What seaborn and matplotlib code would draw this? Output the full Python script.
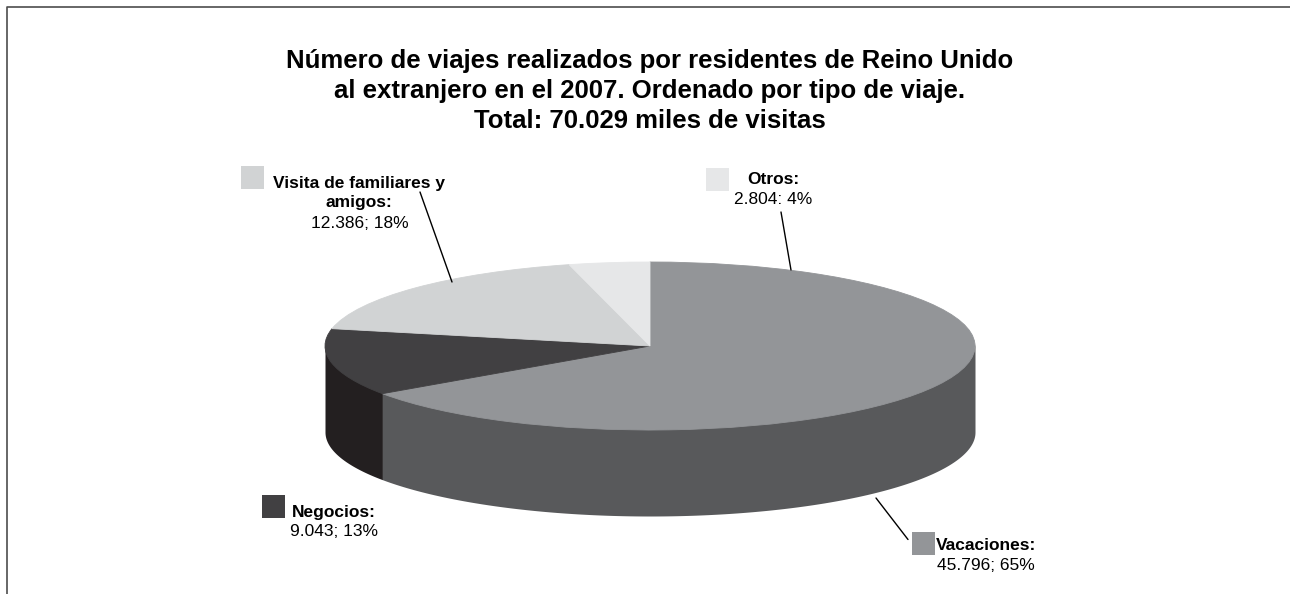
import numpy as np
import seaborn as sns
import matplotlib
matplotlib.use("Agg")
import matplotlib.pyplot as plt
from matplotlib.patches import Rectangle
from matplotlib.lines import Line2D

categories = ["Vacaciones", "Negocios", "Visita de familiares y\namigos", "Otros"]
values = [45796, 9043, 12386, 2804]
value_labels = ["45.796; 65%", "9.043; 13%", "12.386; 18%", "2.804: 4%"]
top_colors = ["#939598", "#414042", "#d1d3d4", "#e6e7e8"]
side_colors = ["#58595b", "#231f20", "#a7a9ac", "#bcbec0"]
title = ("Número de viajes realizados por residentes de Reino Unido\n"
         "al extranjero en el 2007. Ordenado por tipo de viaje.\n"
         "Total: 70.029 miles de visitas")

sns.set_theme(style="white")
plt.rcParams["font.family"] = ["Liberation Sans", "DejaVu Sans"]

W, H = 1290, 594
fig = plt.figure(figsize=(W / 100, H / 100), dpi=100, facecolor="white")

# Overlay in pixel coordinates for frame, texts, legend keys
ov = fig.add_axes([0, 0, 1, 1], zorder=3)
ov.set_xlim(0, W)
ov.set_ylim(H, 0)
ov.axis("off")
ov.patch.set_alpha(0)

# Pie axes: unit circle squashed to an ellipse
cx, cy, rx, ry, depth = 650, 346, 325, 84, 86
ax = fig.add_axes([(cx - rx) / W, 1 - (cy + ry) / H, 2 * rx / W, 2 * ry / H], zorder=2)
ax.pie(values, colors=top_colors, startangle=90, counterclock=False, radius=1,
       wedgeprops=dict(linewidth=0.6), frame=False)
for w, c in zip(ax.patches, top_colors):
    w.set_edgecolor(c)
    w.set_zorder(5)
ax.set_aspect("auto")
ax.set_xlim(-1, 1)
ax.set_ylim(-1, 1)
ax.axis("off")
ax.patch.set_alpha(0)

# Side wall, derived from the values; its top tucks under the pie to avoid a seam
d = depth / ry
edges = 90 - 360 * np.concatenate([[0], np.cumsum(values)]) / np.sum(values)
for a0, a1, c in zip(edges[:-1], edges[1:], side_colors):
    lo, hi = max(min(a0, a1), -180), min(max(a0, a1), 0)
    if lo < hi:
        t = np.radians(np.linspace(lo, hi, 200))
        ax.fill_between(np.cos(t), np.sin(t) + 0.05, np.sin(t) - d, color=c, lw=0,
                        zorder=1, clip_on=False)

# Frame: left and top only
ov.add_line(Line2D([6.8, 6.8, W], [H, 6.5, 6.5], color="#4d4d4d", lw=1.2))

ov.text(650, 90.8, title, ha="center", va="center", fontsize=18.5, fontweight="bold",
        color="black", linespacing=1.31)

fs = 12.5
keys = [(912, 532), (262, 495), (241, 166), (706, 168)]
name_pos = [(986, 546), (334, 512), (359, 193), (773, 180)]
value_pos = [(986, 566), (334, 532), (360, 223), (773, 200)]
leaders = [(876, 498, 908, 539.5), (420, 192, 452, 282), (781, 212, 791, 270)]

for i, name in enumerate(categories):
    ov.add_patch(Rectangle(keys[i], 23, 23, fc=top_colors[i], ec="none"))
    ov.text(*name_pos[i], name + ":", ha="center", va="center", fontsize=fs,
            fontweight="bold", color="black", linespacing=1.4)
    ov.text(*value_pos[i], value_labels[i], ha="center", va="center", fontsize=fs, color="black")

for (x0, y0, x1, y1) in leaders:
    ov.add_line(Line2D([x0, x1], [y0, y1], color="black", lw=1, zorder=6))

fig.savefig("out.png", dpi=100, facecolor="white")
